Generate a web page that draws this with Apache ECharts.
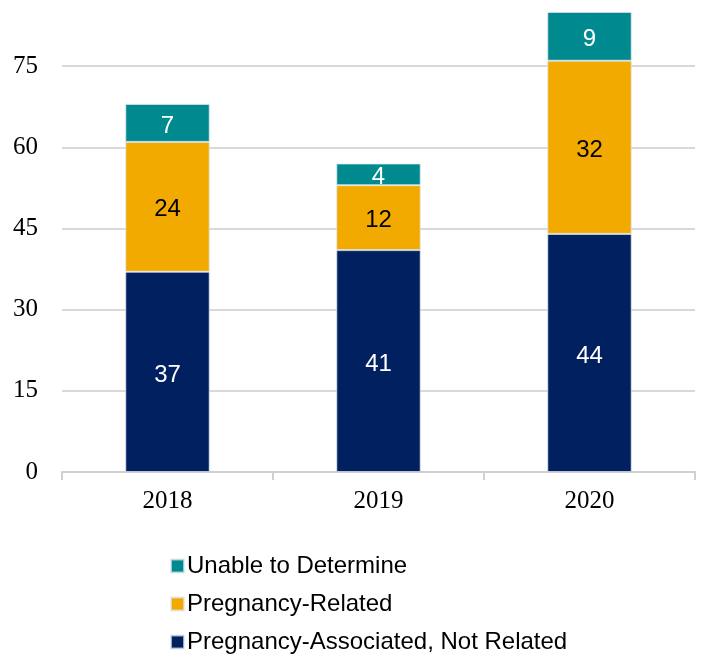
<!DOCTYPE html>
<html>
<head>
<meta charset="utf-8">
<script src="https://cdn.jsdelivr.net/npm/echarts@6/dist/echarts.min.js"></script>
<style>
  html, body { margin: 0; padding: 0; background: #fff; }
  #chart { width: 702px; height: 656px; }
</style>
</head>
<body>
<div id="chart"></div>
<script>
// Categories and stacked counts per year
const years = ['2018', '2019', '2020'];
const associatedNotRelated = [37, 41, 44];
const pregnancyRelated = [24, 12, 32];
const unableToDetermine = [7, 4, 9];
const yTicks = [0, 15, 30, 45, 60, 75];
const yMax = 85;

const colors = {
  associated: '#002060',
  related: '#F2AA00',
  unable: '#008A8F'
};

const chart = echarts.init(document.getElementById('chart'), null, { renderer: 'canvas' });

function barSeries(name, data, color, labelColor) {
  return {
    name: name,
    type: 'bar',
    stack: 'total',
    data: data,
    barWidth: '40%',
    itemStyle: { color: color, borderColor: 'rgba(220,230,240,0.7)', borderWidth: 1 },
    label: {
      show: true,
      position: 'inside',
      offset: [0, 3],
      color: labelColor,
      fontFamily: 'Liberation Sans, Arial, sans-serif',
      fontSize: 24
    }
  };
}

// Gridline colours: one per tick, the top edge (axis max) left blank
const gridColors = yTicks.map(() => '#d9d9d9').concat(['rgba(0,0,0,0)']);

chart.setOption({
  animation: false,
  backgroundColor: '#ffffff',
  grid: { left: 62, right: 7, top: 12, bottom: 184, containLabel: false },
  xAxis: {
    type: 'category',
    data: years,
    axisLine: { lineStyle: { color: '#d0d0d0', width: 2 } },
    axisTick: { show: true, length: 8, lineStyle: { color: '#d0d0d0', width: 2 } },
    axisLabel: {
      color: '#000',
      fontFamily: 'Liberation Serif, Times New Roman, serif',
      fontSize: 25,
      margin: 17
    }
  },
  yAxis: {
    type: 'value',
    min: 0,
    max: yMax,
    interval: 15,
    axisLine: { show: false },
    axisTick: { show: false },
    splitLine: { lineStyle: { color: gridColors, width: 2 } },
    axisLabel: {
      color: '#000',
      fontFamily: 'Liberation Serif, Times New Roman, serif',
      fontSize: 25,
      margin: 24,
      showMaxLabel: false,
      formatter: function (v) { return yTicks.indexOf(v) >= 0 ? String(v) : ''; }
    }
  },
  legend: {
    orient: 'vertical',
    left: 170,
    top: 554,
    width: 500,
    height: 140,
    padding: 0,
    itemWidth: 13,
    itemHeight: 13,
    itemGap: 14,
    icon: 'rect',
    data: ['Unable to Determine', 'Pregnancy-Related', 'Pregnancy-Associated, Not Related'],
    textStyle: {
      color: '#000',
      fontFamily: 'Liberation Sans, Arial, sans-serif',
      fontSize: 24,
      padding: [0, 0, 0, -2]
    }
  },
  series: [
    barSeries('Pregnancy-Associated, Not Related', associatedNotRelated, colors.associated, '#ffffff'),
    barSeries('Pregnancy-Related', pregnancyRelated, colors.related, '#000000'),
    barSeries('Unable to Determine', unableToDetermine, colors.unable, '#ffffff')
  ]
});
</script>
</body>
</html>
